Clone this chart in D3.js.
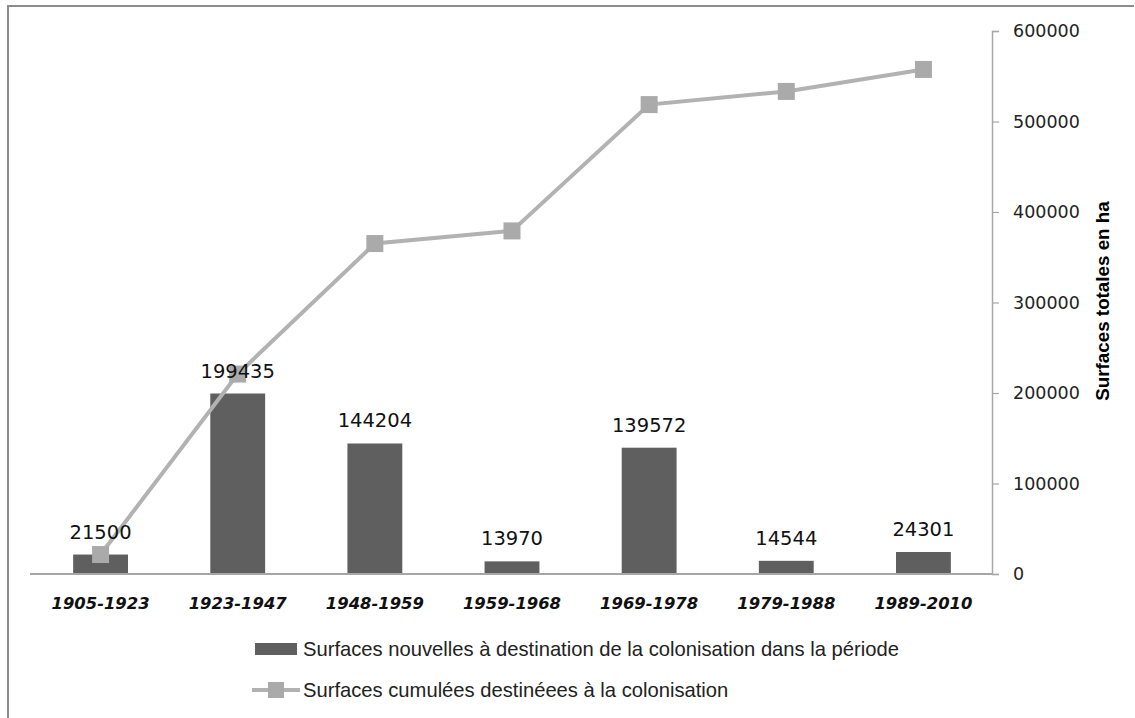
<!DOCTYPE html>
<html><head><meta charset="utf-8">
<script src="https://cdn.jsdelivr.net/npm/d3@7"></script>
<style>html,body{margin:0;padding:0;background:#fff;}svg{display:block;}</style>
</head><body>
<svg id="c" width="1135" height="718"></svg>
<script>
const categories = ["1905-1923","1923-1947","1948-1959","1959-1968","1969-1978","1979-1988","1989-2010"];
const newSurfaces = [21500,199435,144204,13970,139572,14544,24301];
const cumulSurfaces = [21500,220935,365139,379109,518681,533225,557526];
const yTicks = [0,100000,200000,300000,400000,500000,600000];
const seriesNames = ["Surfaces nouvelles à destination de la colonisation dans la période","Surfaces cumulées destinéees à la colonisation"];
const axisTitle = "Surfaces totales en ha";

const svg = d3.select("#c");
// frame
svg.append("line").attr("x1",8).attr("x2",8).attr("y1",5).attr("y2",718).attr("stroke","#8c8c8c").attr("stroke-width",2);
svg.append("line").attr("x1",7).attr("x2",1134).attr("y1",6).attr("y2",6).attr("stroke","#8c8c8c").attr("stroke-width",2);

const x = d3.scaleBand().domain(categories).range([32,992]).paddingInner(0.6).paddingOuter(0.3);
const y = d3.scaleLinear().domain([0,600000]).range([574,31]);

// right axis
const ax = svg.append("g").attr("transform","translate(992,0)")
  .call(d3.axisRight(y).tickValues(yTicks).tickSize(7).tickPadding(14).tickFormat(d3.format("d")));
ax.select(".domain").attr("stroke","#a6a6a6").attr("stroke-width",1.5);
ax.selectAll(".tick line").attr("stroke","#a6a6a6").attr("stroke-width",1.2);
ax.selectAll(".tick text").attr("font-family","DejaVu Sans").attr("font-size",17.5).attr("fill","#222");

svg.append("text").attr("transform","translate(1108.5,301) rotate(-90)")
  .attr("text-anchor","middle").attr("font-family","Liberation Sans").attr("font-weight","bold")
  .attr("font-size",18.8).attr("fill","#000").text(axisTitle);

// bars
svg.append("g").selectAll("rect").data(categories).join("rect")
  .attr("x",d=>x(d)).attr("width",x.bandwidth())
  .attr("y",(d,i)=>y(newSurfaces[i])).attr("height",(d,i)=>y(0)-y(newSurfaces[i]))
  .attr("fill","#5f5f5f");

// baseline
svg.append("line").attr("x1",30).attr("x2",992).attr("y1",y(0)).attr("y2",y(0)).attr("stroke","#a6a6a6").attr("stroke-width",2);

// category labels
svg.append("g").selectAll("text").data(categories).join("text")
  .attr("x",d=>x(d)+x.bandwidth()/2).attr("y",609).attr("text-anchor","middle")
  .attr("font-family","DejaVu Sans").attr("font-weight","bold").attr("font-style","italic")
  .attr("font-size",16.4).attr("fill","#111").text(d=>d);

// line
const line = d3.line().x((d,i)=>x(categories[i])+x.bandwidth()/2).y(d=>y(d));
svg.append("path").datum(cumulSurfaces).attr("d",line).attr("fill","none").attr("stroke","#b2b2b2").attr("stroke-width",4);
svg.append("g").selectAll("rect").data(cumulSurfaces).join("rect")
  .attr("x",(d,i)=>x(categories[i])+x.bandwidth()/2-8.5).attr("y",d=>y(d)-8.5)
  .attr("width",17).attr("height",17).attr("fill","#aaaaaa");

// data labels
svg.append("g").selectAll("text").data(newSurfaces).join("text")
  .attr("x",(d,i)=>x(categories[i])+x.bandwidth()/2).attr("y",d=>y(d)-16).attr("text-anchor","middle")
  .attr("font-family","DejaVu Sans").attr("font-size",19.5).attr("fill","#111").text(d=>d);

// legend
const lg = svg.append("g");
lg.append("rect").attr("x",255).attr("y",643).attr("width",42).attr("height",12).attr("fill","#5f5f5f");
lg.append("text").attr("x",303).attr("y",656).attr("font-family","Liberation Sans").attr("font-size",20.2).attr("fill","#222").text(seriesNames[0]);
lg.append("line").attr("x1",252).attr("x2",300).attr("y1",690).attr("y2",690).attr("stroke","#b2b2b2").attr("stroke-width",4);
lg.append("rect").attr("x",268).attr("y",682).attr("width",16).attr("height",16).attr("fill","#aaaaaa");
lg.append("text").attr("x",303).attr("y",697).attr("font-family","Liberation Sans").attr("font-size",20.2).attr("fill","#222").text(seriesNames[1]);
</script>
</body></html>
